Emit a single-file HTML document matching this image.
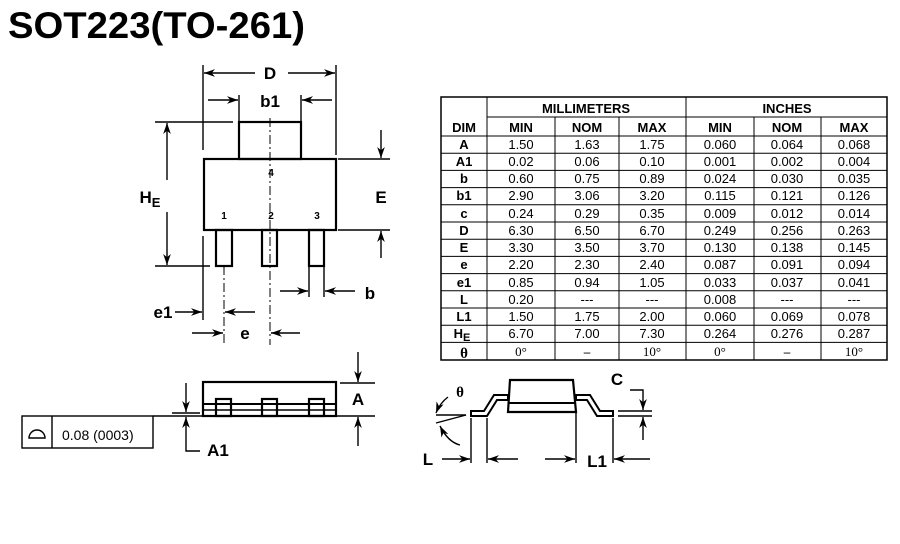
<!DOCTYPE html>
<html><head><meta charset="utf-8"><style>
body{margin:0;background:#fff;}
svg{display:block;font-family:"Liberation Sans",Arial,sans-serif;}
.b{font-weight:bold;}
</style></head><body>
<svg width="900" height="544" viewBox="0 0 900 544" xmlns="http://www.w3.org/2000/svg">
<defs>
<marker id="ar" viewBox="0 0 10 10" refX="10" refY="5" markerWidth="11" markerHeight="11" orient="auto-start-reverse" markerUnits="userSpaceOnUse"><path d="M0,1.5 L10,5 L0,8.5 L3,5 z" fill="#000"/></marker>
</defs>
<text x="8" y="38" font-size="37" class="b" textLength="297" lengthAdjust="spacingAndGlyphs">SOT223(TO-261)</text>

<g stroke="#000" fill="none" stroke-width="1.4">
<rect x="204" y="159" width="132" height="71" stroke-width="2.2"/>
<rect x="239" y="122" width="62" height="37" stroke-width="2.2"/>
<rect x="216" y="230" width="16" height="36" stroke-width="2.2"/>
<rect x="262" y="230" width="15" height="36" stroke-width="2.2"/>
<rect x="309" y="230" width="15" height="36" stroke-width="2.2"/>
<line x1="270" y1="118" x2="270" y2="345" stroke-dasharray="9,3,2,3" stroke-width="1"/>
<line x1="224" y1="266" x2="224" y2="345" stroke-dasharray="9,3,2,3" stroke-width="1"/>
<line x1="203" y1="65" x2="203" y2="150"/><line x1="336" y1="65" x2="336" y2="155"/>
<line x1="255" y1="73" x2="204" y2="73" marker-end="url(#ar)"/>
<line x1="288" y1="73" x2="335" y2="73" marker-end="url(#ar)"/>
<line x1="239" y1="95" x2="239" y2="157"/><line x1="301" y1="95" x2="301" y2="157"/>
<line x1="208" y1="100" x2="238" y2="100" marker-end="url(#ar)"/>
<line x1="332" y1="100" x2="302" y2="100" marker-end="url(#ar)"/>
<line x1="155" y1="122" x2="233" y2="122"/><line x1="155" y1="266" x2="210" y2="266"/>
<line x1="167" y1="180" x2="167" y2="123" marker-end="url(#ar)"/>
<line x1="167" y1="212" x2="167" y2="265" marker-end="url(#ar)"/>
<line x1="338" y1="159" x2="390" y2="159"/><line x1="338" y1="230" x2="390" y2="230"/>
<line x1="381" y1="130" x2="381" y2="158" marker-end="url(#ar)"/>
<line x1="381" y1="258" x2="381" y2="231" marker-end="url(#ar)"/>
<line x1="309" y1="266" x2="309" y2="297"/><line x1="324" y1="266" x2="324" y2="297"/>
<line x1="280" y1="291" x2="308" y2="291" marker-end="url(#ar)"/>
<line x1="355" y1="291" x2="325" y2="291" marker-end="url(#ar)"/>
<line x1="203" y1="236" x2="203" y2="320"/>
<line x1="175" y1="312" x2="202" y2="312" marker-end="url(#ar)"/>
<line x1="255" y1="312" x2="225" y2="312" marker-end="url(#ar)"/>
<line x1="192" y1="333" x2="223" y2="333" marker-end="url(#ar)"/>
<line x1="300" y1="333" x2="271" y2="333" marker-end="url(#ar)"/>

<rect x="203" y="382" width="133" height="34" stroke-width="2.2"/>
<line x1="203" y1="404" x2="336" y2="404" stroke-width="2"/>
<line x1="203" y1="410" x2="336" y2="410" stroke-width="1.5"/>
<rect x="216" y="399" width="15" height="17" fill="none" stroke-width="2.2"/>
<rect x="262" y="399" width="15" height="17" fill="none" stroke-width="2.2"/>
<rect x="309" y="399" width="15" height="17" fill="none" stroke-width="2.2"/>
<line x1="340" y1="383" x2="375" y2="383"/><line x1="328" y1="416" x2="375" y2="416"/>
<line x1="358" y1="352" x2="358" y2="382" marker-end="url(#ar)"/>
<line x1="358" y1="446" x2="358" y2="417" marker-end="url(#ar)"/>
<line x1="172" y1="413" x2="200" y2="413"/>
<line x1="153" y1="416" x2="210" y2="416"/>
<line x1="186" y1="383" x2="186" y2="412" marker-end="url(#ar)"/>
<line x1="186" y1="440" x2="186" y2="417" marker-end="url(#ar)"/>
<polyline points="186,440 186,451 200,451"/>
<rect x="22" y="416" width="131" height="32"/>
<line x1="52" y1="416" x2="52" y2="448"/>
<path d="M29,438 A8,8 0 0 1 45,438 Z"/>

<path d="M510,380 L573,380 L576,412 L508,412 Z" stroke-width="2.2"/>
<line x1="508" y1="403" x2="576" y2="403" stroke-width="2"/>
<path d="M471,411 L484,411 L494,395 L508,395 L508,400 L497,400 L487,416 L471,416 Z" stroke-width="2"/>
<path d="M613,411 L600,411 L590,395 L576,395 L576,400 L587,400 L597,416 L613,416 Z" stroke-width="2"/>
<line x1="618" y1="411" x2="652" y2="411"/><line x1="618" y1="416" x2="652" y2="416"/>
<polyline points="630,390 643,390 643,410" marker-end="url(#ar)"/>
<line x1="643" y1="440" x2="643" y2="417" marker-end="url(#ar)"/>
<line x1="471" y1="418" x2="471" y2="463"/><line x1="487" y1="418" x2="487" y2="463"/>
<line x1="576" y1="413" x2="576" y2="463"/><line x1="613" y1="418" x2="613" y2="463"/>
<line x1="442" y1="459" x2="470" y2="459" marker-end="url(#ar)"/>
<line x1="518" y1="459" x2="488" y2="459" marker-end="url(#ar)"/>
<line x1="545" y1="459" x2="575" y2="459" marker-end="url(#ar)"/>
<line x1="650" y1="459" x2="614" y2="459" marker-end="url(#ar)"/>
<line x1="436" y1="415" x2="466" y2="415"/>
<line x1="436" y1="423" x2="466" y2="415"/>
<path d="M448,397 Q440,403 436,413" marker-end="url(#ar)"/>
<path d="M460,445 Q448,442 440,426" marker-end="url(#ar)"/>
</g>

<g class="b" font-size="17" text-anchor="middle">
<text x="270" y="79">D</text>
<text x="270" y="107">b1</text>
<text x="381" y="203">E</text>
<text x="370" y="299">b</text>
<text x="163" y="318">e1</text>
<text x="245" y="339">e</text>
<text x="150" y="203">H<tspan font-size="13" dy="4">E</tspan></text>
<text x="358" y="405">A</text>
<text x="218" y="456">A1</text>
<text x="617" y="385">C</text>
<text x="428" y="465">L</text>
<text x="597" y="467">L1</text>
</g>
<text x="460" y="397" font-size="15" class="b" text-anchor="middle" font-family="Liberation Serif">θ</text>
<g class="b" font-size="10" text-anchor="middle">
<text x="271" y="176">4</text><text x="224" y="219">1</text><text x="271" y="219">2</text><text x="317" y="219">3</text>
</g>
<text x="62" y="440" font-size="14">0.08 (0003)</text>

<g stroke="#000" stroke-width="1" fill="none">
<rect x="441" y="97" width="446" height="263" stroke-width="1.5"/>
<line x1="487" y1="117" x2="887" y2="117"/>
<line x1="441" y1="136" x2="887" y2="136"/>
<line x1="487" y1="97" x2="487" y2="360"/>
<line x1="686" y1="97" x2="686" y2="360"/>
<line x1="555" y1="117" x2="555" y2="360"/>
<line x1="619" y1="117" x2="619" y2="360"/>
<line x1="754" y1="117" x2="754" y2="360"/>
<line x1="821" y1="117" x2="821" y2="360"/>
<path d="M441,153.2H887M441,170.4H887M441,187.6H887M441,204.8H887M441,222H887M441,239.2H887M441,256.4H887M441,273.6H887M441,290.8H887M441,308H887M441,325.2H887M441,342.4H887"/>
</g>
<g font-size="13" text-anchor="middle">
<g class="b"><text x="586" y="113">MILLIMETERS</text><text x="787" y="113">INCHES</text>
<text x="464" y="132">DIM</text><text x="521" y="132">MIN</text><text x="587" y="132">NOM</text><text x="652" y="132">MAX</text><text x="720" y="132">MIN</text><text x="787" y="132">NOM</text><text x="854" y="132">MAX</text>
<text x="464" y="149">A</text><text x="464" y="166">A1</text><text x="464" y="183">b</text><text x="464" y="200">b1</text><text x="464" y="218">c</text><text x="464" y="235">D</text><text x="464" y="252">E</text><text x="464" y="269">e</text><text x="464" y="287">e1</text><text x="464" y="304">L</text><text x="464" y="321">L1</text><text x="462" y="338">H<tspan font-size="11" dy="3">E</tspan></text><text x="464" y="358" font-family="Liberation Serif" font-size="15">θ</text></g>
<g>
<text y="149"><tspan x="521">1.50</tspan><tspan x="587">1.63</tspan><tspan x="652">1.75</tspan><tspan x="720">0.060</tspan><tspan x="787">0.064</tspan><tspan x="854">0.068</tspan></text>
<text y="166"><tspan x="521">0.02</tspan><tspan x="587">0.06</tspan><tspan x="652">0.10</tspan><tspan x="720">0.001</tspan><tspan x="787">0.002</tspan><tspan x="854">0.004</tspan></text>
<text y="183"><tspan x="521">0.60</tspan><tspan x="587">0.75</tspan><tspan x="652">0.89</tspan><tspan x="720">0.024</tspan><tspan x="787">0.030</tspan><tspan x="854">0.035</tspan></text>
<text y="200"><tspan x="521">2.90</tspan><tspan x="587">3.06</tspan><tspan x="652">3.20</tspan><tspan x="720">0.115</tspan><tspan x="787">0.121</tspan><tspan x="854">0.126</tspan></text>
<text y="218"><tspan x="521">0.24</tspan><tspan x="587">0.29</tspan><tspan x="652">0.35</tspan><tspan x="720">0.009</tspan><tspan x="787">0.012</tspan><tspan x="854">0.014</tspan></text>
<text y="235"><tspan x="521">6.30</tspan><tspan x="587">6.50</tspan><tspan x="652">6.70</tspan><tspan x="720">0.249</tspan><tspan x="787">0.256</tspan><tspan x="854">0.263</tspan></text>
<text y="252"><tspan x="521">3.30</tspan><tspan x="587">3.50</tspan><tspan x="652">3.70</tspan><tspan x="720">0.130</tspan><tspan x="787">0.138</tspan><tspan x="854">0.145</tspan></text>
<text y="269"><tspan x="521">2.20</tspan><tspan x="587">2.30</tspan><tspan x="652">2.40</tspan><tspan x="720">0.087</tspan><tspan x="787">0.091</tspan><tspan x="854">0.094</tspan></text>
<text y="287"><tspan x="521">0.85</tspan><tspan x="587">0.94</tspan><tspan x="652">1.05</tspan><tspan x="720">0.033</tspan><tspan x="787">0.037</tspan><tspan x="854">0.041</tspan></text>
<text y="304"><tspan x="521">0.20</tspan><tspan x="587">---</tspan><tspan x="652">---</tspan><tspan x="720">0.008</tspan><tspan x="787">---</tspan><tspan x="854">---</tspan></text>
<text y="321"><tspan x="521">1.50</tspan><tspan x="587">1.75</tspan><tspan x="652">2.00</tspan><tspan x="720">0.060</tspan><tspan x="787">0.069</tspan><tspan x="854">0.078</tspan></text>
<text y="338"><tspan x="521">6.70</tspan><tspan x="587">7.00</tspan><tspan x="652">7.30</tspan><tspan x="720">0.264</tspan><tspan x="787">0.276</tspan><tspan x="854">0.287</tspan></text>
<text y="356" font-family="Liberation Serif"><tspan x="521">0°</tspan><tspan x="587" class="b">–</tspan><tspan x="652">10°</tspan><tspan x="720">0°</tspan><tspan x="787" class="b">–</tspan><tspan x="854">10°</tspan></text>
</g>
</g>
</svg>
</body></html>
